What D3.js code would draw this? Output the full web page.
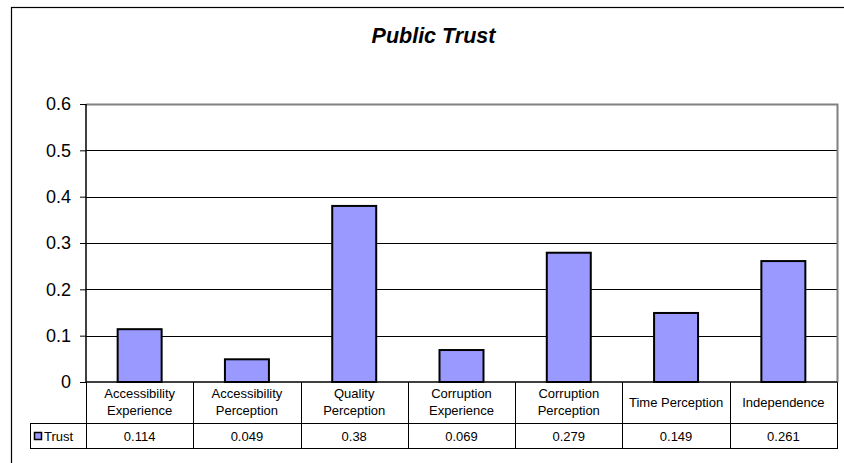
<!DOCTYPE html>
<html><head><meta charset="utf-8">
<script src="https://cdn.jsdelivr.net/npm/d3@7"></script>
<style>body{margin:0;background:#fff}svg{display:block}text{font-family:"Liberation Sans",Arial,sans-serif}</style>
</head><body>
<script>
const categories = [["Accessibility","Experience"],["Accessibility","Perception"],["Quality","Perception"],["Corruption","Experience"],["Corruption","Perception"],["Time Perception"],["Independence"]];
const trustValues = [0.114, 0.049, 0.38, 0.069, 0.279, 0.149, 0.261];
const valueLabels = ["0.114","0.049","0.38","0.069","0.279","0.149","0.261"];
const yTicks = [0, 0.1, 0.2, 0.3, 0.4, 0.5, 0.6];
const seriesName = "Trust";
const title = "Public Trust";

const W = 844, H = 463;
const svg = d3.select("body").append("svg").attr("width", W).attr("height", H);
// outer chart border (right/bottom fall outside picture)
svg.append("rect").attr("x", 11.5).attr("y", 7.5).attr("width", 900).attr("height", 600)
  .attr("fill", "none").attr("stroke", "#000").attr("stroke-width", 1.2);

const L = 86, R = 837, T = 104, B = 382;
const x = d3.scaleBand().domain(d3.range(categories.length)).range([L, R]).paddingInner(0).paddingOuter(0);
const y = d3.scaleLinear().domain([0, 0.6]).range([B, T]);

svg.append("text").attr("x", 433.5).attr("y", 43).attr("text-anchor", "middle")
  .attr("font-size", 21.5).attr("font-weight", "bold").attr("font-style", "italic").text(title);

// gridlines
svg.append("g").selectAll("line").data(yTicks.filter(d => d > 0 && d < 0.6)).join("line")
  .attr("x1", L).attr("x2", R).attr("y1", d => Math.round(y(d)) + 0.5).attr("y2", d => Math.round(y(d)) + 0.5)
  .attr("stroke", "#000").attr("stroke-width", 1);
// plot border top/right gray
svg.append("path").attr("d", `M${L},${T+0.5}H${R+0.5}V${B}`).attr("fill", "none").attr("stroke", "#808080").attr("stroke-width", 2);

// bars
const bw = x.bandwidth() * 0.41;
svg.append("g").selectAll("rect").data(trustValues).join("rect")
  .attr("x", (d, i) => x(i) + (x.bandwidth() - bw) / 2).attr("width", bw)
  .attr("y", d => y(d)).attr("height", d => B - y(d))
  .attr("fill", "#9999FF").attr("stroke", "#000").attr("stroke-width", 2);

// y axis
const yAxis = d3.axisLeft(y).tickValues(yTicks).tickFormat(d => d === 0 ? "0" : d3.format(".1f")(d)).tickSize(6).tickPadding(9);
const ga = svg.append("g").attr("transform", `translate(${L},0)`).call(yAxis);
ga.select(".domain").attr("stroke", "#000").attr("stroke-width", 1.5).attr("d", `M0,${T}V${B}`);
ga.selectAll(".tick line").attr("stroke", "#000");
ga.selectAll(".tick text").attr("font-size", 18).attr("fill", "#000").style("font-family", "Liberation Sans, Arial, sans-serif");

// baseline
svg.append("line").attr("x1", L).attr("x2", R).attr("y1", B).attr("y2", B).attr("stroke", "#000").attr("stroke-width", 1.5);

// data table
const rowMid = 423, tBot = 448, legL = 30;
const tg = svg.append("g").attr("stroke", "#000").attr("stroke-width", 1);
tg.append("line").attr("x1", legL).attr("x2", R + 1).attr("y1", rowMid + 0.5).attr("y2", rowMid + 0.5);
tg.append("line").attr("x1", legL).attr("x2", R + 1).attr("y1", tBot + 0.5).attr("y2", tBot + 0.5);
tg.append("line").attr("x1", legL + 0.5).attr("x2", legL + 0.5).attr("y1", rowMid).attr("y2", tBot);
tg.selectAll("line.c").data(d3.range(categories.length + 1)).join("line").attr("class", "c")
  .attr("x1", i => Math.round(i < categories.length ? x(i) : R) + 0.5)
  .attr("x2", i => Math.round(i < categories.length ? x(i) : R) + 0.5)
  .attr("y1", B).attr("y2", tBot);

// category labels
categories.forEach((lines, i) => {
  const cx = x(i) + x.bandwidth() / 2;
  const startY = lines.length === 2 ? 398 : 407;
  lines.forEach((ln, j) => {
    svg.append("text").attr("x", cx).attr("y", startY + j * 16.5).attr("text-anchor", "middle")
      .attr("font-size", 13).text(ln);
  });
  svg.append("text").attr("x", cx).attr("y", 440.5).attr("text-anchor", "middle").attr("font-size", 13).text(valueLabels[i]);
});

// legend
svg.append("rect").attr("x", 34.5).attr("y", 432.5).attr("width", 7).attr("height", 7)
  .attr("fill", "#9999FF").attr("stroke", "#000").attr("stroke-width", 1.5);
svg.append("text").attr("x", 44).attr("y", 441).attr("font-size", 13).text(seriesName);
</script>
</body></html>
